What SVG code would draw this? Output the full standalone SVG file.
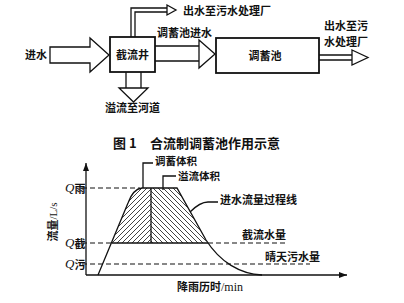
<svg xmlns="http://www.w3.org/2000/svg" width="404" height="303" viewBox="0 0 404 303">
<style>
.t{font-family:"Noto Sans CJK SC","Noto Sans",sans-serif;font-size:11px;font-weight:bold;fill:#111}
.s{font-family:"Liberation Serif",serif;fill:#111}
.ln{fill:none;stroke:#111;stroke-width:1.3}
.ar{fill:#fff;stroke:#111;stroke-width:1.3;stroke-linejoin:miter}
.box{fill:#fff;stroke:#111;stroke-width:1.8}
.dash{fill:none;stroke:#111;stroke-width:1.1;stroke-dasharray:5,3}
</style>
<defs>
<pattern id="hf" patternUnits="userSpaceOnUse" width="5" height="5">
<path d="M-1,1 l2,-2 M0,5 l5,-5 M4,6 l2,-2" stroke="#111" stroke-width="0.8"/>
</pattern>
<pattern id="hb" patternUnits="userSpaceOnUse" width="5" height="5">
<path d="M-1,4 l2,2 M0,0 l5,5 M4,-1 l2,2" stroke="#111" stroke-width="0.8"/>
</pattern>
<marker id="ah" viewBox="0 0 8 6" refX="8" refY="3" markerWidth="8" markerHeight="6" orient="auto" markerUnits="userSpaceOnUse">
<path d="M0,0 L8,3 L0,6 Z" fill="#111"/>
</marker>
</defs>
<rect width="404" height="303" fill="#fff"/>

<g id="connectors">
<polygon class="ar" points="50,47 90,47 90,38 109,55 90,72 90,63 50,63"/>
<path class="ln" d="M131,37 V8 H167 M135,37 V12 H167"/>
<polygon class="ar" points="167,5 176,10 167,15"/>
<path class="ln" d="M155,46 H199 M155,61 H199"/>
<polygon class="ar" points="199,40 215,54 199,68"/>
<path class="ln" d="M319,55 H352 M319,60 H352"/>
<polygon class="ar" points="352,50 368,57.5 352,65"/>
<path class="ln" d="M126,72 V88 M141,72 V88"/>
<polygon class="ar" points="119,88 148,88 133.5,102"/>
</g>

<g id="inlet"><text class="t" x="25" y="59">进水</text></g>
<g id="jieliujing">
<rect class="box" x="110" y="37" width="45" height="35"/>
<text class="t" x="132.5" y="59" text-anchor="middle">截流井</text>
</g>
<g id="tiaoxuchi">
<rect class="box" x="216" y="38" width="103" height="35"/>
<text class="t" x="265" y="60" text-anchor="middle">调蓄池</text>
</g>
<g id="labels">
<text class="t" x="183" y="15">出水至污水处理厂</text>
<text class="t" x="157" y="37">调蓄池进水</text>
<text class="t" x="324" y="30">出水至污</text>
<text class="t" x="324" y="46">水处理厂</text>
<text class="t" x="105" y="112">溢流至河道</text>
</g>

<g id="caption">
<text class="t" x="113" y="148" style="font-size:13px">图 1</text>
<text class="t" x="150" y="148" style="font-size:13px">合流制调蓄池作用示意</text>
</g>

<g id="chart">
<path d="M112,243 L128,203 Q133,189 142,188 L151,188 L151,243 Z" fill="url(#hf)"/>
<path d="M151,188 L177,188 L207,243 L151,243 Z" fill="url(#hb)"/>
<path class="ln" d="M86,275 V163" marker-end="url(#ah)"/>
<path class="ln" d="M86,275 H347" marker-end="url(#ah)"/>
<path class="dash" d="M82,188 H140"/>
<path class="dash" d="M82,243 H112 M208,243 H288"/>
<path class="dash" d="M82,264 H310"/>
<path class="ln" d="M112,243 H208 M151,188 V243"/>
<path class="ln" stroke-width="1.5" d="M98,275 L128,203 Q133,189 142,188 L177,188 L206,240 C220,262 240,274 262,275"/>
<path class="ln" stroke-width="1" d="M153,163 H143 V188 M176,176 H163 V190 M218,202 H208 Q200,202 190,212"/>
<text class="t" x="155" y="165" style="font-size:10.5px">调蓄体积</text>
<text class="t" x="178" y="180" style="font-size:10.5px">溢流体积</text>
<text class="t" x="220" y="204">进水流量过程线</text>
<text class="t" x="242" y="239">截流水量</text>
<text class="t" x="265" y="261">晴天污水量</text>
<text x="65" y="192"><tspan class="s" font-style="italic" font-size="13">Q</tspan><tspan class="t" font-size="8" dy="1">雨</tspan></text>
<text x="65" y="247"><tspan class="s" font-style="italic" font-size="13">Q</tspan><tspan class="t" font-size="8" dy="1">截</tspan></text>
<text x="65" y="268"><tspan class="s" font-style="italic" font-size="13">Q</tspan><tspan class="t" font-size="8" dy="1">污</tspan></text>
<text transform="translate(57,222) rotate(-90)" text-anchor="middle"><tspan class="t">流量</tspan><tspan class="s" font-size="11">/L/s</tspan></text>
<text x="177" y="291"><tspan class="t">降雨历时</tspan><tspan class="s" font-size="12">/min</tspan></text>
</g>
</svg>
